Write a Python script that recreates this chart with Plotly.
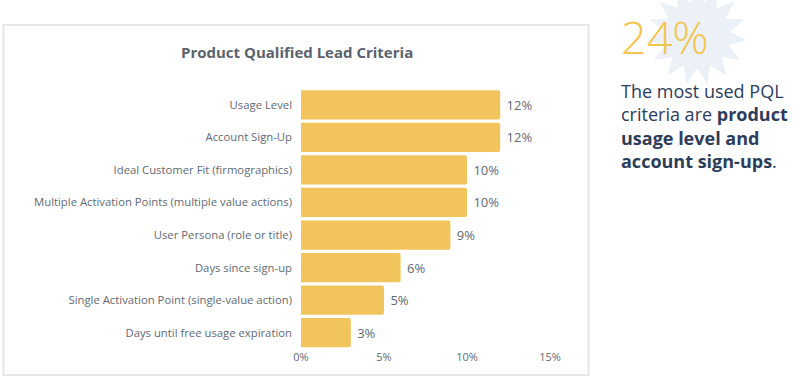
import numpy as np
import plotly.graph_objects as go

categories = [
    "Usage Level",
    "Account Sign-Up",
    "Ideal Customer Fit (firmographics)",
    "Multiple Activation Points (multiple value actions)",
    "User Persona (role or title)",
    "Days since sign-up",
    "Single Activation Point (single-value action)",
    "Days until free usage expiration",
]
values = [12, 12, 10, 10, 9, 6, 5, 3]
value_labels = ["12%", "12%", "10%", "10%", "9%", "6%", "5%", "3%"]
tick_vals = [0, 5, 10, 15]
tick_text = ["0%", "5%", "10%", "15%"]
title_text = "Product Qualified Lead Criteria"
big_stat = "24%"
stat_text = ("The most used PQL<br>criteria are <b>product</b><br>"
             "<b>usage level and</b><br><b>account sign-ups</b>.")

W, H = 800, 384
FONT = "Open Sans"
BAR = "#f2c45c"
GRAY = "#626973"
NAVY = "#2c3d5b"


def px(x):
    return x / W


def py(y):
    return 1 - y / H


fig = go.Figure(go.Bar(
    y=categories,
    x=values,
    orientation="h",
    text=value_labels,
    texttemplate=" %{text}",
    marker=dict(color=BAR, cornerradius=2, line=dict(width=0)),
    textposition="outside",
    textfont=dict(size=13, color=GRAY, family=FONT),
    cliponaxis=False,
    hoverinfo="skip",
))

# starburst behind the stat
cx, cy, r_out, r_in, n = 697, 35, 50, 33, 15
pts = []
for i in range(2 * n):
    ang = np.pi / 2 + i * np.pi / n
    r = r_out if i % 2 == 0 else r_in
    pts.append((px(cx + r * np.cos(ang)), py(cy - r * np.sin(ang))))
path = "M " + " L ".join(f"{a:.5f},{b:.5f}" for a, b in pts) + " Z"

fig.update_layout(
    width=W, height=H,
    margin=dict(l=0, r=0, t=0, b=0),
    paper_bgcolor="white",
    plot_bgcolor="white",
    showlegend=False,
    bargap=0.1,
    font=dict(family=FONT, color=GRAY),
    xaxis=dict(
        domain=[px(301), px(550)],
        range=[0, 15],
        tickvals=tick_vals,
        ticktext=tick_text,
        showgrid=False, zeroline=False, showline=False,
        tickfont=dict(size=11, color=GRAY),
        automargin=False,
    ),
    yaxis=dict(
        domain=[py(349), py(88.5)],
        autorange="reversed",
        showgrid=False, zeroline=False, showline=False,
        tickfont=dict(size=11.3, color=GRAY),
        ticklabelstandoff=8,
        automargin=False,
    ),
    shapes=[
        dict(type="rect", xref="paper", yref="paper",
             x0=px(3.5), x1=px(588.5), y0=py(375), y1=py(25),
             line=dict(color="#e3e6e9", width=2), fillcolor="rgba(0,0,0,0)",
             layer="below"),
        dict(type="path", xref="paper", yref="paper", path=path,
             fillcolor="#ebf1f6", line=dict(width=0), layer="below"),
    ],
    annotations=[
        dict(text=f"<b>{title_text}</b>", xref="paper", yref="paper",
             x=px(297), y=py(52), xanchor="center", yanchor="middle",
             showarrow=False, font=dict(size=15, color="#5b626c", family=FONT)),
        dict(text=big_stat, xref="paper", yref="paper",
             x=px(619), y=py(37), xanchor="left", yanchor="middle",
             showarrow=False,
             font=dict(size=45, color="#f3c54f", family=FONT, weight=300)),
        dict(text=stat_text, xref="paper", yref="paper",
             x=px(619), y=py(77), xanchor="left", yanchor="top", align="left",
             showarrow=False,
             font=dict(size=18, color=NAVY, family=FONT)),
    ],
)

fig.write_html("out.html",
               config={"displayModeBar": False},
               post_script="document.body.style.margin='0';"
                           "document.body.style.padding='0';")
